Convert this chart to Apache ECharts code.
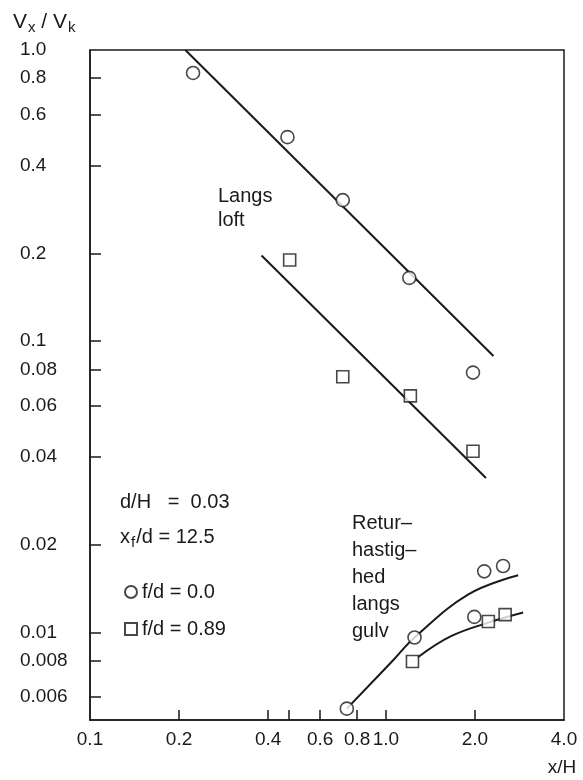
<!DOCTYPE html>
<html>
<head>
<meta charset="utf-8">
<script src="https://cdn.jsdelivr.net/npm/echarts@6/dist/echarts.min.js"></script>
<style>
html,body{margin:0;padding:0;background:#fff;}
#c{width:583px;height:780px;}
</style>
</head>
<body>
<div id="c"></div>
<script>
// ---- data ----
const xLabelValues = [0.1, 0.2, 0.4, 0.6, 0.8, 1.0, 2.0, 4.0];
const xTickValues = [0.2, 0.4, 0.47, 0.6, 0.8, 1.0, 2.0];
const yTickValues = [1.0, 0.8, 0.6, 0.4, 0.2, 0.1, 0.08, 0.06, 0.04, 0.02, 0.01, 0.008, 0.006];
const yTickLabels = ['1.0', '0.8', '0.6', '0.4', '0.2', '0.1', '0.08', '0.06', '0.04', '0.02', '0.01', '0.008', '0.006'];

// circles, f/d = 0.0
const circleX = [0.223, 0.465, 0.715, 1.20, 1.97, 0.738, 1.25, 1.99, 2.15, 2.49];
const circleY = [0.834, 0.502, 0.305, 0.165, 0.078, 0.00547, 0.0096, 0.0113, 0.0162, 0.0169];
// squares, f/d = 0.89
const squareX = [0.473, 0.715, 1.21, 1.97, 1.23, 2.22, 2.53];
const squareY = [0.190, 0.0755, 0.0649, 0.0419, 0.00794, 0.0109, 0.0115];

// fitted curves
const fitLoftCircleX = [0.210, 2.31];
const fitLoftCircleY = [1.0, 0.0889];
const fitLoftSquareX = [0.380, 2.18];
const fitLoftSquareY = [0.197, 0.0339];
const fitFloorCircleX = [0.738, 1.064, 1.25, 1.90, 2.80];
const fitFloorCircleY = [0.00547, 0.00807, 0.0096, 0.0135, 0.0157];
const fitFloorSquareX = [1.28, 1.66, 2.22, 2.91];
const fitFloorSquareY = [0.0082, 0.0097, 0.0108, 0.0117];

const seriesNames = ['f/d = 0.0', 'f/d = 0.89'];

// ---- chart ----
const INK = '#1a1a1a';
const FONT = 'Liberation Sans';
const zip = (a, b) => a.map((v, i) => [v, b[i]]);

function lineSeries(xs, ys, smooth) {
  return {
    type: 'line', data: zip(xs, ys), showSymbol: false, smooth: smooth ? 0.4 : false,
    lineStyle: { color: INK, width: 2 }, z: 2, silent: true
  };
}

const chart = echarts.init(document.getElementById('c'), null, { renderer: 'canvas' });
chart.setOption({
  backgroundColor: '#fff',
  animation: false,
  grid: { left: 90, right: 19, top: 50, bottom: 60, show: true, borderColor: INK, borderWidth: 1.5, containLabel: false },
  xAxis: {
    type: 'log', logBase: 10, min: 0.1, max: 4.0,
    axisLine: { show: true, lineStyle: { color: INK, width: 1.5 } },
    axisTick: { show: true, inside: true, length: 10, customValues: xTickValues, lineStyle: { color: INK, width: 1.5 } },
    axisLabel: {
      show: true, customValues: xLabelValues, margin: 10,
      color: INK, fontSize: 19, fontFamily: FONT,
      formatter: v => Number(v).toFixed(1)
    },
    splitLine: { show: false }, minorTick: { show: false }
  },
  yAxis: {
    type: 'log', logBase: 10, min: 0.005, max: 1.0,
    axisLine: { show: true, lineStyle: { color: INK, width: 1.5 } },
    axisTick: { show: true, inside: true, length: 11, customValues: yTickValues.filter(v => v < 1), lineStyle: { color: INK, width: 1.5 } },
    axisLabel: {
      show: true, customValues: yTickValues, margin: 70, align: 'left',
      color: INK, fontSize: 19, fontFamily: FONT,
      formatter: v => {
        let best = 0, bd = Infinity;
        yTickValues.forEach((t, i) => { const d = Math.abs(Math.log(t) - Math.log(v)); if (d < bd) { bd = d; best = i; } });
        return yTickLabels[best];
      }
    },
    splitLine: { show: false }, minorTick: { show: false }
  },
  legend: {
    data: seriesNames, orient: 'vertical', left: 119, top: 577,
    itemWidth: 12, itemHeight: 12, itemGap: 17, selectedMode: false,
    textStyle: { color: INK, fontSize: 20, fontFamily: FONT }
  },
  series: [
    lineSeries(fitLoftCircleX, fitLoftCircleY, false),
    lineSeries(fitLoftSquareX, fitLoftSquareY, false),
    lineSeries(fitFloorCircleX, fitFloorCircleY, true),
    lineSeries(fitFloorSquareX, fitFloorSquareY, true),
    {
      name: seriesNames[0], type: 'scatter', data: zip(circleX, circleY), symbol: 'circle', symbolSize: 13, z: 5,
      itemStyle: { color: '#fff', borderColor: INK, borderWidth: 1.6 }
    },
    {
      name: seriesNames[1], type: 'scatter', data: zip(squareX, squareY), symbol: 'rect', symbolSize: 12, z: 5,
      itemStyle: { color: '#fff', borderColor: INK, borderWidth: 1.6 }
    }
  ],
  graphic: [
    { type: 'text', x: 13, y: 22, style: { text: '{v|V}{s|x}{v| / V}{s|k}', fill: INK, verticalAlign: 'middle',
      rich: { v: { fontSize: 21, fontFamily: FONT, fill: INK }, s: { fontSize: 15, fontFamily: FONT, fill: INK, padding: [12, 0, 0, 1] } } } },
    { type: 'text', x: 562, y: 768, style: { text: 'x/H', font: '19px "Liberation Sans"', fill: INK, align: 'center', verticalAlign: 'middle' } },
    { type: 'text', x: 218, y: 184, style: { text: 'Langs\nloft', font: '20px "Liberation Sans"', fill: INK, lineHeight: 24, verticalAlign: 'top' } },
    { type: 'text', x: 352, y: 510, style: { text: 'Retur–\nhastig–\nhed\nlangs\ngulv', font: '20px "Liberation Sans"', fill: INK, lineHeight: 27, verticalAlign: 'top' } },
    { type: 'text', x: 120, y: 502, style: { text: 'd/H   =  0.03', font: '20px "Liberation Sans"', fill: INK, verticalAlign: 'middle' } },
    { type: 'text', x: 120, y: 537, style: { text: '{n|x}{s|f}{n|/d = 12.5}', fill: INK, verticalAlign: 'middle',
      rich: { n: { fontSize: 20, fontFamily: FONT, fill: INK }, s: { fontSize: 15, fontFamily: FONT, fill: INK, padding: [12, 1, 0, 1] } } } }
  ]
});
</script>
</body>
</html>
